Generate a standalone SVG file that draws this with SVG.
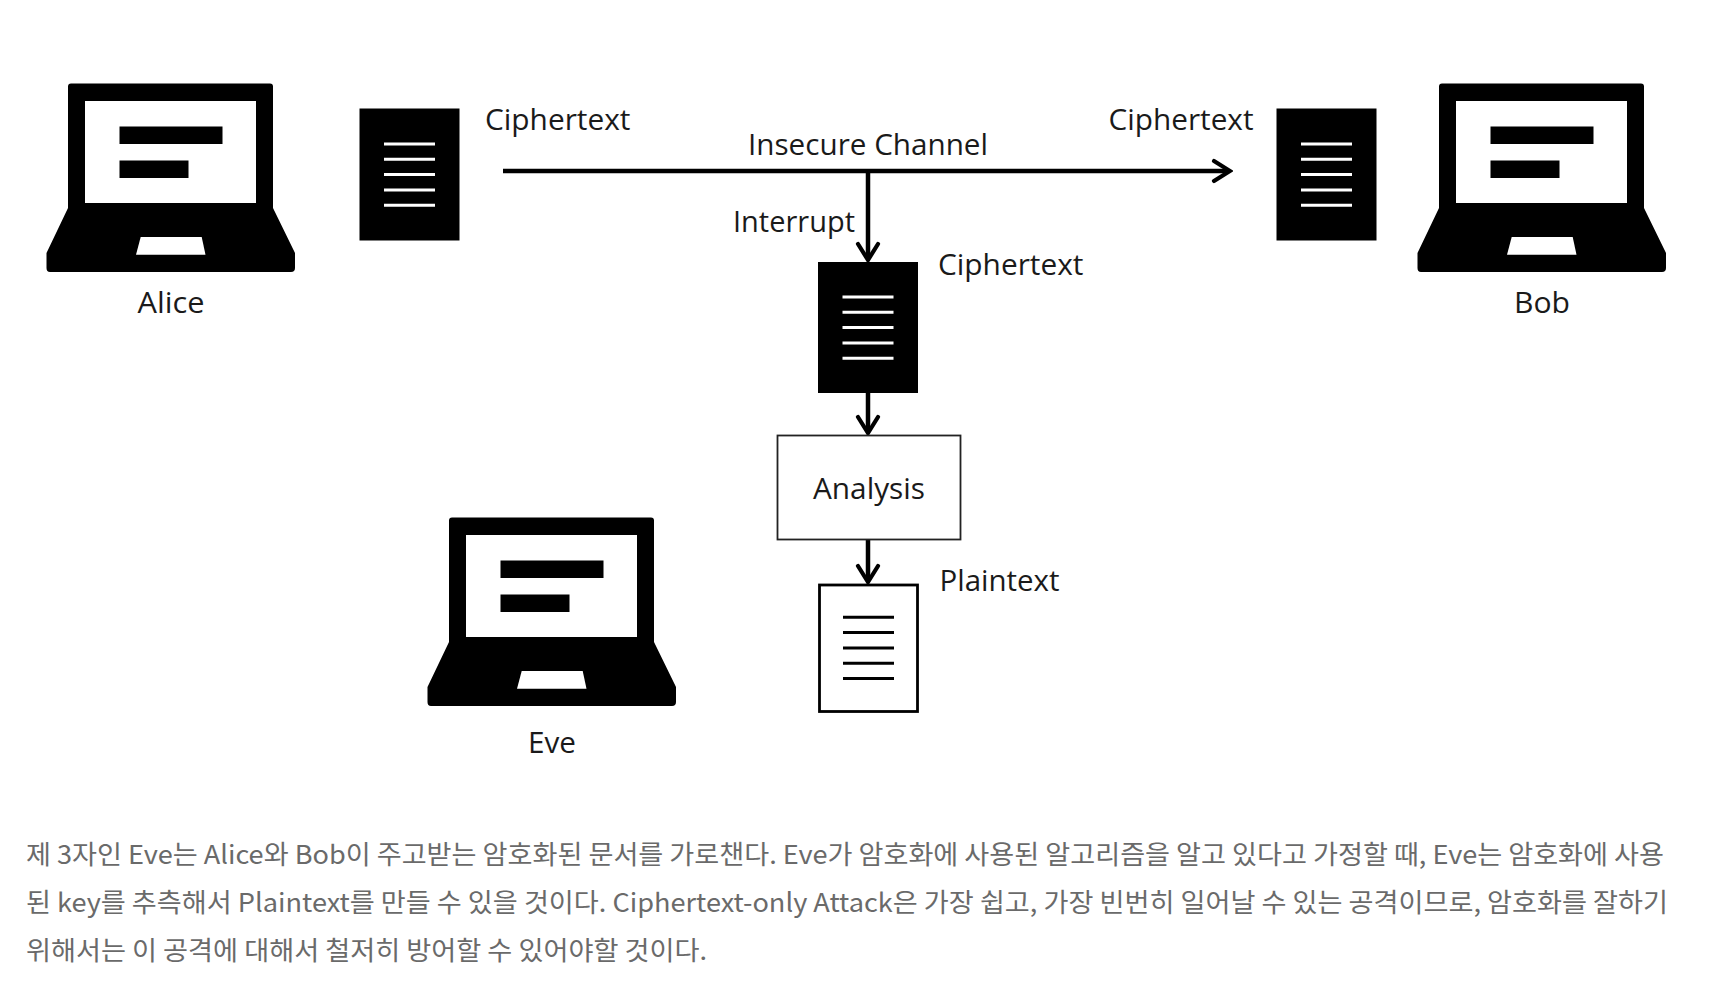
<svg xmlns="http://www.w3.org/2000/svg" width="1710" height="1000" viewBox="0 0 1710 1000">
<style>
.lbl{font-family:"Open Sans","Noto Sans","Noto Sans CJK KR",sans-serif;font-size:30px;fill:#1a1a1a}
.body{font-family:"Noto Sans CJK KR","Noto Sans",sans-serif;font-size:26px;font-weight:400;fill:#6a6a6a}
.wire{fill:none;stroke:#000;stroke-width:4.5}
</style>
<defs>
<marker id="arrow" markerUnits="userSpaceOnUse" viewBox="0 0 22 26" markerWidth="22" markerHeight="26" refX="18" refY="13" orient="auto">
<path d="M3 3 L19 13 L3 23" fill="none" stroke="#000" stroke-width="4.2" stroke-linecap="round" stroke-linejoin="miter"/>
</marker>
<g id="laptop">
<path d="M71 83.500H270Q273 83.500 273 86.500V208L295 253V268Q295 272 291 272H50Q46.500 272 46.500 268V253L68 208V86.500Q68 83.500 71 83.500Z" fill="#000"/>
<rect x="85" y="101" width="171" height="102" fill="#fff"/>
<rect x="119.500" y="126.500" width="103" height="17.500" fill="#000"/>
<rect x="119.500" y="160.500" width="69" height="17.500" fill="#000"/>
<path d="M140.700 237H201.700L205.500 254.700H136Z" fill="#fff"/>
</g>
<g id="doclines">
<path d="M0 0H51M0 15.300H51M0 30.600H51M0 46H51M0 61.300H51" fill="none" stroke-width="3"/>
</g>
</defs>
<rect width="1710" height="1000" fill="#fff"/>
<g id="connectors">
<path class="wire" d="M503 171H1229" marker-end="url(#arrow)"/>
<path class="wire" d="M868 171V259" marker-end="url(#arrow)"/>
<path class="wire" d="M868 393V432" marker-end="url(#arrow)"/>
<path class="wire" d="M868 539V581" marker-end="url(#arrow)"/>
</g>
<g id="alice">
<use href="#laptop"/>
<text class="lbl" x="137.500" y="313" textLength="67" lengthAdjust="spacingAndGlyphs">Alice</text>
</g>
<g id="bob">
<use href="#laptop" x="1371"/>
<text class="lbl" x="1514" y="313" textLength="56" lengthAdjust="spacingAndGlyphs">Bob</text>
</g>
<g id="eve">
<use href="#laptop" x="381" y="434"/>
<text class="lbl" x="528" y="752.500" textLength="48" lengthAdjust="spacingAndGlyphs">Eve</text>
</g>
<g id="doc-alice">
<rect x="359.500" y="108.500" width="100" height="132" fill="#000"/>
<use href="#doclines" x="384" y="144" stroke="#fff"/>
<text class="lbl" x="485" y="130" textLength="145.500" lengthAdjust="spacingAndGlyphs">Ciphertext</text>
</g>
<g id="doc-bob">
<rect x="1276.500" y="108.500" width="100" height="132" fill="#000"/>
<use href="#doclines" x="1301" y="144" stroke="#fff"/>
<text class="lbl" x="1108.500" y="130" textLength="145" lengthAdjust="spacingAndGlyphs">Ciphertext</text>
</g>
<g id="doc-eve">
<rect x="818" y="262" width="100" height="131" fill="#000"/>
<use href="#doclines" x="842.500" y="297" stroke="#fff"/>
<text class="lbl" x="938" y="275" textLength="145.500" lengthAdjust="spacingAndGlyphs">Ciphertext</text>
</g>
<g id="analysis">
<rect x="777.500" y="435.500" width="183" height="104" fill="#fff" stroke="#222" stroke-width="1.800"/>
<text class="lbl" x="813" y="499" textLength="112" lengthAdjust="spacingAndGlyphs">Analysis</text>
</g>
<g id="plaintext">
<rect x="819.500" y="585" width="98" height="126.500" fill="#fff" stroke="#000" stroke-width="2.800"/>
<use href="#doclines" x="843" y="617.300" stroke="#000"/>
<text class="lbl" x="939.500" y="590.700" textLength="120" lengthAdjust="spacingAndGlyphs">Plaintext</text>
</g>
<g id="labels">
<text class="lbl" x="748" y="155" textLength="240" lengthAdjust="spacingAndGlyphs">Insecure Channel</text>
<text class="lbl" x="733" y="231.500" textLength="122" lengthAdjust="spacingAndGlyphs">Interrupt</text>
</g>
<g id="caption">
<text class="body" x="26" y="864" textLength="1638" lengthAdjust="spacingAndGlyphs">제 3자인 Eve는 Alice와 Bob이 주고받는 암호화된 문서를 가로챈다. Eve가 암호화에 사용된 알고리즘을 알고 있다고 가정할 때, Eve는 암호화에 사용</text>
<text class="body" x="26" y="912" textLength="1642" lengthAdjust="spacingAndGlyphs">된 key를 추측해서 Plaintext를 만들 수 있을 것이다. Ciphertext-only Attack은 가장 쉽고, 가장 빈번히 일어날 수 있는 공격이므로, 암호화를 잘하기</text>
<text class="body" x="26" y="960" textLength="681" lengthAdjust="spacingAndGlyphs">위해서는 이 공격에 대해서 철저히 방어할 수 있어야할 것이다.</text>
</g>
</svg>
